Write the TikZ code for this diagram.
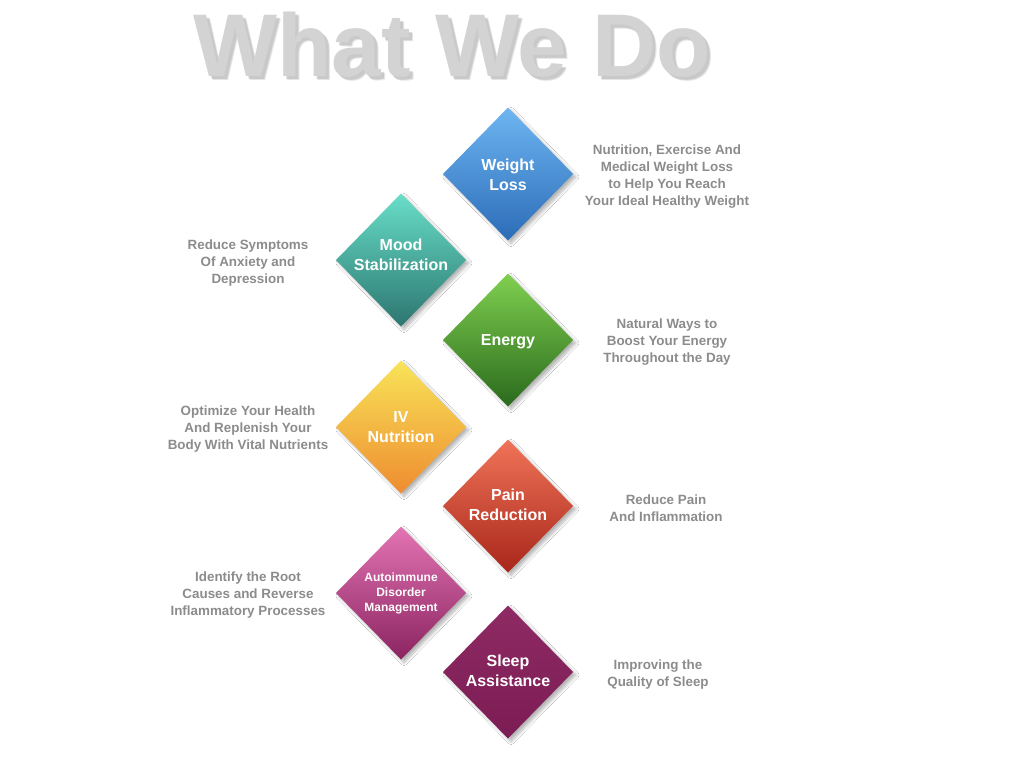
\documentclass[tikz,border=0pt]{standalone}
\usepackage{fontspec}
\setmainfont{Liberation Sans}
\usetikzlibrary{shapes.geometric,shadows.blur}
\definecolor{titlegray}{HTML}{D3D3D3}
\definecolor{titleshadow}{HTML}{8A8A8A}
\definecolor{sidegray}{HTML}{8C8C8C}
\definecolor{wlT}{HTML}{6EB6F2}\definecolor{wlB}{HTML}{2C6CB8}
\definecolor{msT}{HTML}{68DEC8}\definecolor{msB}{HTML}{2C7670}
\definecolor{enT}{HTML}{80D050}\definecolor{enB}{HTML}{2A6A1C}
\definecolor{ivT}{HTML}{F8E458}\definecolor{ivB}{HTML}{EE8C30}
\definecolor{prT}{HTML}{F07458}\definecolor{prB}{HTML}{A8261A}
\definecolor{amT}{HTML}{E474B4}\definecolor{amB}{HTML}{8A2460}
\definecolor{saT}{HTML}{8E2A64}\definecolor{saB}{HTML}{7C1C54}
\tikzset{
  diamondbox/.style={diamond, aspect=1, inner sep=0pt, outer sep=0pt,
    minimum width=130pt, minimum height=133pt, draw=none,
    blur shadow={shadow xshift=3pt, shadow yshift=-3pt, shadow opacity=30, shadow blur steps=8, shadow blur radius=3pt}},
  dtext/.style={text=white, font=\bfseries\fontsize{16}{20}\selectfont, align=center, inner sep=0pt},
  dsmall/.style={text=white, font=\bfseries\fontsize{12}{15}\selectfont, align=center, inner sep=0pt},
  sidetext/.style={text=sidegray, font=\bfseries\fontsize{13.4}{17}\selectfont, align=center, inner sep=0pt},
  titletext/.style={anchor=base, font=\bfseries\fontsize{89}{89}\selectfont, inner sep=0pt},
}
\begin{document}
\begin{tikzpicture}[x=1pt,y=-1pt]
\useasboundingbox (0,0) rectangle (1024,768);
\fill[white] (0,0) rectangle (1024,768);
% title with soft shadow
\node[titletext, text=titleshadow, opacity=0.22] (titleshadowA) at (456,80) {What We Do};
\node[titletext, text=titleshadow, opacity=0.3] (titleshadowB) at (455,79) {What We Do};
\node[titletext, text=titlegray] (title) at (452,76) {What We Do};
% diamonds
\node[diamondbox, top color=wlT, bottom color=wlB] (wl) at (508,174) {};
\node[diamondbox, top color=msT, bottom color=msB] (ms) at (401,260) {};
\node[diamondbox, top color=enT, bottom color=enB] (en) at (508,340) {};
\node[diamondbox, top color=ivT, bottom color=ivB] (iv) at (401,427) {};
\node[diamondbox, top color=prT, bottom color=prB] (pr) at (508,506) {};
\node[diamondbox, top color=amT, bottom color=amB] (am) at (401,593) {};
\node[diamondbox, top color=saT, bottom color=saB] (sa) at (508,672) {};
% diamond labels
\node[dtext] (wlt) at (508,175) {Weight\\Loss};
\node[dtext] (mst) at (401,255) {Mood\\Stabilization};
\node[dtext] (ent) at (508,342) {Energy};
\node[dtext] (ivt) at (401,427) {IV\\Nutrition};
\node[dtext] (prt) at (508,505) {Pain\\Reduction};
\node[dsmall] (amt) at (401,593) {Autoimmune\\Disorder\\Management};
\node[dtext] (sat) at (508,671) {Sleep\\Assistance};
% side texts
\node[sidetext] (wls) at (667,177) {Nutrition, Exercise And\\Medical Weight Loss\\to Help You Reach\\Your Ideal Healthy Weight};
\node[sidetext] (mss) at (248,263) {Reduce Symptoms\\Of Anxiety and\\Depression};
\node[sidetext] (ens) at (667,342) {Natural Ways to\\Boost Your Energy\\Throughout the Day};
\node[sidetext] (ivs) at (248,429) {Optimize Your Health\\And Replenish Your\\Body With Vital Nutrients};
\node[sidetext] (prs) at (666,508) {Reduce Pain\\And Inflammation};
\node[sidetext] (ams) at (248,595) {Identify the Root\\Causes and Reverse\\Inflammatory Processes};
\node[sidetext] (sas) at (658,675) {Improving the\\Quality of Sleep};
\end{tikzpicture}
\end{document}
